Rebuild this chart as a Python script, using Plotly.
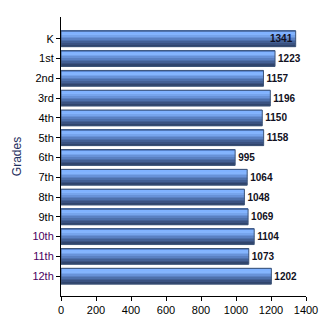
import plotly.graph_objects as go

grades = ["K", "1st", "2nd", "3rd", "4th", "5th", "6th", "7th", "8th", "9th", "10th", "11th", "12th"]
values = [1341, 1223, 1157, 1196, 1150, 1158, 995, 1064, 1048, 1069, 1104, 1073, 1202]
x_ticks = [0, 200, 400, 600, 800, 1000, 1200, 1400]

label_colors = ["#000000"] * 10 + ["#4b0060"] * 3
ticktext = [f'<span style="color:{c}">{g}</span>' for g, c in zip(grades, label_colors)]
ypos = list(range(len(grades)))

grad = ["#5a86cf", "#80b2ff", "#84b4fd", "#76a4ec", "#6892d8", "#5a80c2",
        "#4e70ab", "#436095", "#3a5281", "#30456d"]
bw = 0.8
n = len(grad)
fig = go.Figure()
for i, c in enumerate(grad):
    fig.add_trace(go.Bar(
        x=values, y=ypos, orientation="h",
        width=bw / n, offset=-bw / 2 + i * bw / n,
        marker=dict(color=c, line=dict(width=0)),
        hoverinfo="skip", showlegend=False,
    ))
fig.add_trace(go.Bar(
    x=values, y=ypos, orientation="h", width=bw, offset=-bw / 2,
    marker=dict(color="rgba(0,0,0,0)", line=dict(color="#3d5478", width=1)),
    text=[f"<b>{v}</b>" for v in values],
    textposition=["inside"] + ["outside"] * 12,
    insidetextanchor="end", constraintext="none",
    textfont=dict(family="Arial", size=10, color="#111122"),
    cliponaxis=False, showlegend=False,
))

fig.update_layout(
    width=330, height=330, barmode="overlay",
    margin=dict(l=61, r=24, t=17, b=34),
    paper_bgcolor="white", plot_bgcolor="white",
    font=dict(family="Arial", size=11, color="black"),
)
fig.update_xaxes(
    range=[0, 1400], tickvals=x_ticks, ticks="outside", ticklen=4, tickcolor="black",
    showline=True, linecolor="black", linewidth=1, showgrid=False, zeroline=False,
    tickfont=dict(size=11, family="Arial"),
)
fig.update_yaxes(
    range=[13, -1.1], tickvals=ypos, ticktext=ticktext, ticks="outside", ticklen=4,
    tickcolor="black", showline=True, linecolor="black", linewidth=1, showgrid=False,
    zeroline=False, tickfont=dict(size=11, family="Arial"),
    title=dict(text="Grades", font=dict(size=12, family="Arial", color="#1f3060"), standoff=8),
)
fig.write_html("out.html")
